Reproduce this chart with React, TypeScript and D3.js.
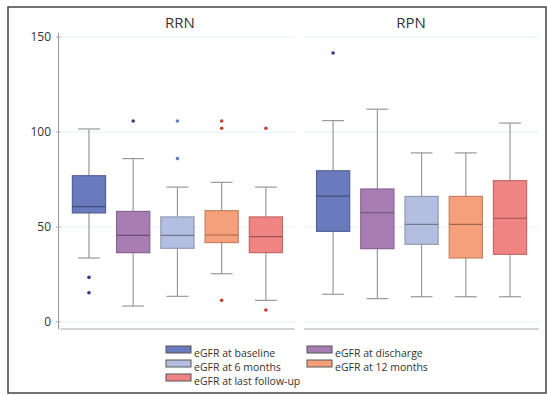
import * as d3 from "d3";

const categories = [
  "eGFR at baseline",
  "eGFR at discharge",
  "eGFR at 6 months",
  "eGFR at 12 months",
  "eGFR at last follow-up",
];
const panels = ["RRN", "RPN"];

// five-number summaries per category
const rrnLow = [33.7, 8.4, 13.5, 25.4, 11.4];
const rrnQ1 = [57.4, 36.5, 38.8, 41.8, 36.5];
const rrnMed = [60.7, 45.6, 45.6, 45.8, 44.9];
const rrnQ3 = [77, 58.2, 55.3, 58.6, 55.3];
const rrnHigh = [101.6, 86, 71, 73.5, 71];
const rrnOutliers = [[23.5, 15.4], [105.8], [86, 105.8], [105.8, 102, 11.4], [102, 6.3]];

const rpnLow = [14.6, 12.3, 13.3, 13.3, 13.3];
const rpnQ1 = [47.7, 38.6, 40.9, 33.7, 35.6];
const rpnMed = [66.3, 57.5, 51.4, 51.4, 54.6];
const rpnQ3 = [79.6, 70, 66.1, 66.1, 74.4];
const rpnHigh = [106, 112, 89, 89, 104.7];
const rpnOutliers = [[141.6], [], [], [], []];

const yTicks = [0, 50, 100, 150];

const fills = ["#6a7bbd", "#a87db4", "#b3bee0", "#f6a07b", "#f08482"];
const dotColors = ["#2a3d8c", "#5b2f7d", "#6a7bbd", "#c4462c", "#c83a34"];

const panelData = [
  { low: rrnLow, q1: rrnQ1, med: rrnMed, q3: rrnQ3, high: rrnHigh, out: rrnOutliers },
  { low: rpnLow, q1: rpnQ1, med: rpnMed, q3: rpnQ3, high: rpnHigh, out: rpnOutliers },
];

export default function App() {
  const width = 547;
  const height = 396;
  const plotTop = 33;
  const plotBottom = 329;

  const y = d3.scaleLinear([0, 150], [322, 37]);
  const panelX = d3.scaleBand(panels, [60, 539]).paddingInner(0.038);
  const titleX = [180, 411];

  return (
    <svg
      width={width}
      height={height}
      viewBox={`0 0 ${width} ${height}`}
      style={{ position: "absolute", left: 0, top: 0, fontFamily: "'Open Sans', sans-serif" }}
    >
      <rect x={8} y={7} width={538} height={386} fill="#fff" stroke="#444" strokeWidth={1.5} />

      {/* y axis */}
      <line x1={58.5} x2={58.5} y1={plotTop} y2={plotBottom} stroke="#999" />
      {yTicks.map((t) => (
        <g key={t}>
          <line x1={56} x2={61} y1={y(t)} y2={y(t)} stroke="#aaa" />
          <text x={51} y={y(t)} dy="0.35em" textAnchor="end" fontSize={12} fill="#333">
            {t}
          </text>
        </g>
      ))}

      {panels.map((p, pi) => {
        const x0 = panelX(p)!;
        const x1 = x0 + panelX.bandwidth();
        const x = d3.scaleBand(categories, [x0, x1]).paddingInner(0.25).paddingOuter(0.28);
        const bw = x.bandwidth();
        const d = panelData[pi];
        return (
          <g key={p}>
            <text x={titleX[pi]} y={27.5} textAnchor="middle" fontSize={15} fill="#333">
              {p}
            </text>
            {yTicks.map((t) => (
              <line key={t} x1={x0} x2={x1} y1={y(t)} y2={y(t)} stroke="#e9f0f4" />
            ))}
            <line x1={x0} x2={x1} y1={plotBottom} y2={plotBottom} stroke="#aaa" />
            {categories.map((c, i) => {
              const cx = x(c)! + bw / 2;
              const cap = bw * 0.66;
              const boxStroke = d3.color(fills[i])!.darker(0.6).formatHex();
              const medStroke = d3.color(fills[i])!.darker(1.3).formatHex();
              return (
                <g key={c}>
                  <line x1={cx} x2={cx} y1={y(d.high[i])} y2={y(d.q3[i])} stroke="#999" strokeWidth={1.2} />
                  <line x1={cx} x2={cx} y1={y(d.q1[i])} y2={y(d.low[i])} stroke="#999" strokeWidth={1.2} />
                  <line x1={cx - cap / 2} x2={cx + cap / 2} y1={y(d.high[i])} y2={y(d.high[i])} stroke="#999" strokeWidth={1.2} />
                  <line x1={cx - cap / 2} x2={cx + cap / 2} y1={y(d.low[i])} y2={y(d.low[i])} stroke="#999" strokeWidth={1.2} />
                  <rect
                    x={x(c)!}
                    y={y(d.q3[i])}
                    width={bw}
                    height={y(d.q1[i]) - y(d.q3[i])}
                    fill={fills[i]}
                    stroke={boxStroke}
                    strokeWidth={1.2}
                  />
                  <line x1={x(c)!} x2={x(c)! + bw} y1={y(d.med[i])} y2={y(d.med[i])} stroke={medStroke} strokeWidth={1.2} />
                  {d.out[i].map((v, k) => (
                    <circle key={k} cx={cx} cy={y(v)} r={1.8} fill={dotColors[i]} />
                  ))}
                </g>
              );
            })}
          </g>
        );
      })}

      {/* legend */}
      {categories.map((c, i) => {
        const col = i % 2;
        const row = Math.floor(i / 2);
        const lx = col === 0 ? 166 : 307;
        const ly = 346 + row * 14;
        return (
          <g key={c}>
            <rect x={lx} y={ly} width={25} height={7} fill={fills[i]} stroke="#555" strokeWidth={1} />
            <text x={lx + 28} y={ly + 11} fontSize={10.5} fill="#333">
              {c}
            </text>
          </g>
        );
      })}
    </svg>
  );
}
